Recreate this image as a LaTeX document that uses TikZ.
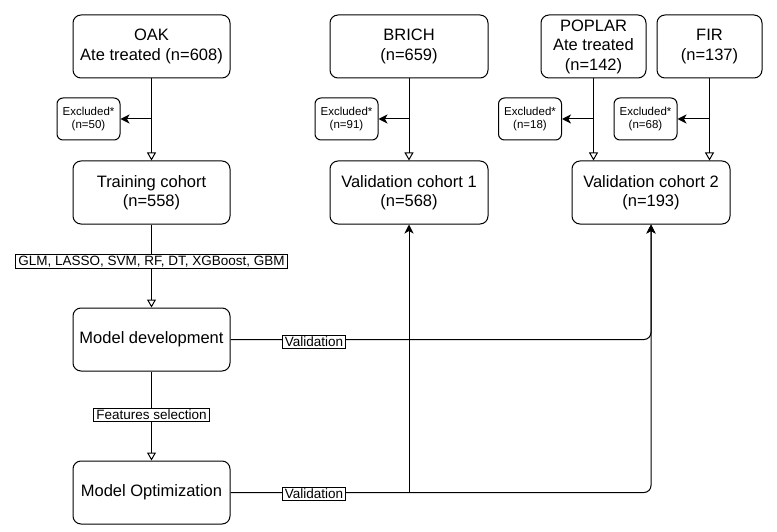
\documentclass[tikz,border=0pt]{standalone}
\usepackage{fontspec}
\setmainfont{Liberation Sans}
\usetikzlibrary{arrows.meta}
\begin{document}
\begin{tikzpicture}[x=1pt,y=-1pt,
  bigbox/.style={draw, line width=1pt, rounded corners=8pt, align=center, inner sep=0pt,
     font=\fontsize{16.5}{19.5}\selectfont, minimum height=63pt},
  exbox/.style={draw, line width=1pt, rounded corners=6pt, align=center, inner sep=0pt,
     font=\fontsize{11.5}{13}\selectfont, minimum width=63pt, minimum height=42pt},
  lbl/.style={draw, fill=white, line width=0.9pt, inner xsep=2.5pt, inner ysep=1.5pt,
     font=\fontsize{13.5}{15}\selectfont},
  conn/.style={line width=1pt},
  openarr/.style={conn, -{Triangle[open, width=9pt, length=8pt]}},
  fillarr/.style={conn, -{Stealth[width=9pt, length=9pt, inset=2.5pt]}}
]
\useasboundingbox (0,0) rectangle (777,532);
% top sources
\node[bigbox, minimum width=157pt] (oak) at (151.5,46.5) {OAK\\Ate treated (n=608)};
\node[bigbox, minimum width=158pt] (brich) at (409,46.5) {BRICH\\(n=659)};
\node[bigbox, minimum width=105pt] (poplar) at (593.5,46.5) {POPLAR\\Ate treated\\(n=142)};
\node[bigbox, minimum width=105pt] (fir) at (709.5,46.5) {FIR\\(n=137)};
% excluded
\node[exbox] (ex1) at (88.5,119) {Excluded*\\(n=50)};
\node[exbox] (ex2) at (346.5,119) {Excluded*\\(n=91)};
\node[exbox] (ex3) at (530,119) {Excluded*\\(n=18)};
\node[exbox] (ex4) at (645.5,119) {Excluded*\\(n=68)};
% cohorts
\node[bigbox, minimum width=157pt] (train) at (151.5,192.5) {Training cohort\\(n=558)};
\node[bigbox, minimum width=158pt] (v1) at (409,192.5) {Validation cohort 1\\(n=568)};
\node[bigbox, minimum width=158pt] (v2) at (651,192.5) {Validation cohort 2\\(n=193)};
% models
\node[bigbox, minimum width=157pt] (dev) at (151.5,339.5) {Model development};
\node[bigbox, minimum width=157pt] (opt) at (151.5,492.5) {Model Optimization};

% source to cohort
\draw[openarr] (oak.south) -- (train.north);
\draw[openarr] (brich.south) -- (v1.north);
\draw[openarr] (poplar.south) -- (poplar.south |- v2.north);
\draw[openarr] (fir.south) -- (fir.south |- v2.north);
% exclusions
\coordinate (b1) at (oak.south |- ex1.east);
\coordinate (b2) at (brich.south |- ex2.east);
\coordinate (b3) at (poplar.south |- ex3.east);
\coordinate (b4) at (fir.south |- ex4.east);
\draw[fillarr] (b1) -- (ex1.east);
\draw[fillarr] (b2) -- (ex2.east);
\draw[fillarr] (b3) -- (ex3.east);
\draw[fillarr] (b4) -- (ex4.east);

% training -> dev
\draw[openarr] (train.south) -- node[lbl, pos=0.446] (glm) {GLM, LASSO, SVM, RF, DT, XGBoost, GBM} (dev.north);
\draw[openarr] (dev.south) -- node[lbl, pos=0.49] (feat) {Features selection} (opt.north);

% validation paths
\coordinate (c1) at (dev.east -| v2.south);
\coordinate (c2) at (opt.east -| v2.south);
\coordinate (c3) at (opt.east -| v1.south);
\draw[fillarr, rounded corners=7pt] (dev.east) -- (c1) -- (v2.south);
\draw[fillarr, rounded corners=7pt] (opt.east) -- (c2) -- (v2.south);
\draw[fillarr] (c3) -- (v1.south);
\node[lbl] (val1) at (314,341.5) {Validation};
\node[lbl] (val2) at (314,494) {Validation};
\end{tikzpicture}
\end{document}
